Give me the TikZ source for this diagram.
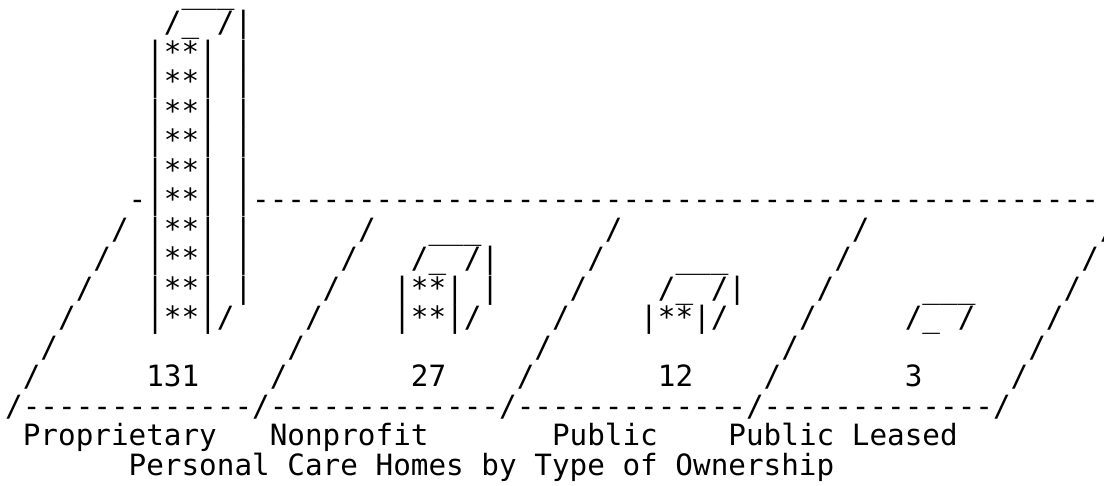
\documentclass[tikz,border=0pt]{standalone}
\usepackage{fontspec}
\newfontfamily\asciimono{DejaVu Sans Mono}
\tikzset{
  cell/.style={anchor=base west, inner sep=0pt, outer sep=0pt,
    font=\asciimono\fontsize{14.65pt}{14.65pt}\selectfont}
}
\begin{document}
\begin{tikzpicture}[x=8.82pt,y=-14.75pt]
\fill[white] (0,0) rectangle (62.585,16.441);
\useasboundingbox (0,0) rectangle (62.585,16.441);
\begin{scope}[shift={(0.295,0.1017)}]
% tall bar: Proprietary (131)
\node[cell] (t0) at (10,0) {\smash{\_\_\_}};
\node[cell] (t1) at (9,1) {/\_ /|};
\foreach \r in {2,3,4,5,6,8,9,10} \node[cell] (t\r) at (8,\r) {|**| |};
\node[cell] (t7) at (7,7) {-|**| |};
\node[cell] (t11) at (8,11) {|**|/};
% back dashed line
\foreach \c in {14,...,61} \node[cell] (h-\c) at (\c,7) {-};
% slanted lines
\foreach \m in {0,...,3} \foreach \r in {8,...,14}
  \node[cell] (s-\m-\r) at ({14*\m+14-\r},\r) {/};
\foreach \r in {9,...,14}
  \node[cell] (s-4-\r) at ({70-\r},\r) {/};
\node[cell] (s-4-8) at (62,8) {\makebox[0pt][l]{/}};
% front dashed line
\foreach \m in {0,...,3} \foreach \k in {1,...,13}
  \node[cell] (b-\m-\k) at ({14*\m+\k},14) {-};
% Nonprofit bar (27)
\node[cell] (n8) at (24,8) {\_\_\_};
\node[cell] (n9) at (23,9) {/\_ /|};
\node[cell] (n10) at (22,10) {|**| |};
\node[cell] (n11) at (22,11) {|**|/};
% Public bar (12)
\node[cell] (p9) at (38,9) {\_\_\_};
\node[cell] (p10) at (37,10) {/\_ /|};
\node[cell] (p11) at (36,11) {|**|/};
% Public Leased bar (3)
\node[cell] (l10) at (52,10) {\_\_\_};
\node[cell] (l11) at (51,11) {/\_ /};
% values
\node[cell] (v1) at (8,13) {131};
\node[cell] (v2) at (23,13) {27};
\node[cell] (v3) at (37,13) {12};
\node[cell] (v4) at (51,13) {3};
% category labels
\node[cell] (c1) at (1,15) {Proprietary};
\node[cell] (c2) at (15,15) {Nonprofit};
\node[cell] (c3) at (31,15) {Public};
\node[cell] (c4) at (41,15) {Public Leased};
% title
\node[cell] (title) at (7,16) {Personal Care Homes by Type of Ownership};
\end{scope}
\end{tikzpicture}
\end{document}
